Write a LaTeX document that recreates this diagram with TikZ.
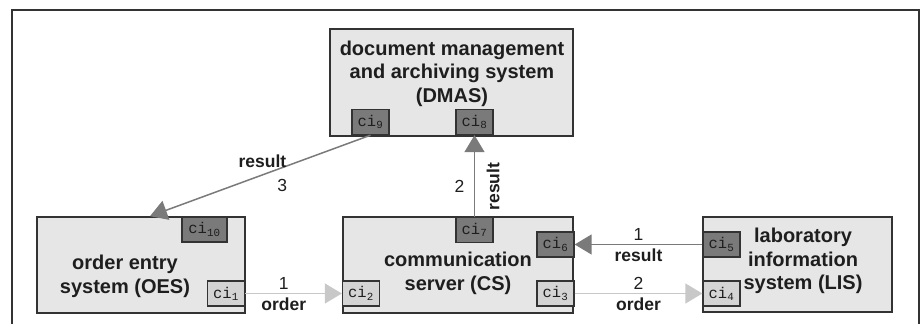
\documentclass[tikz,border=0pt]{standalone}
\usepackage{fontspec}
\setmainfont{Liberation Sans}
\setmonofont{Liberation Mono}
\usepackage{tikz}
\usetikzlibrary{arrows.meta}
\definecolor{frameline}{HTML}{333333}
\definecolor{boxfill}{HTML}{E6E6E6}
\definecolor{cidark}{HTML}{7A7A7A}
\definecolor{cilight}{HTML}{D4D4D4}
\definecolor{arrlight}{HTML}{C8C8C8}
\definecolor{inktext}{HTML}{1E1E1E}
\tikzset{sysbox/.style={draw=frameline,line width=1.6pt,fill=boxfill,inner sep=0pt},systxt/.style={align=center,font=\fontsize{20}{23.5}\selectfont\bfseries,text=inktext,inner sep=0pt},ciD/.style={draw=frameline,line width=1.4pt,fill=cidark,minimum width=37pt,minimum height=25pt,inner sep=0pt,font=\fontsize{15.5}{15.5}\selectfont\ttfamily,text=inktext},ciL/.style={ciD,fill=cilight},darr/.style={-{Triangle[length=17pt,width=20pt]},draw=cidark,line width=1.5pt},larr/.style={darr,draw=arrlight},lbl/.style={font=\fontsize{17.5}{17.5}\selectfont\bfseries,text=inktext},num/.style={font=\fontsize{17.5}{17.5}\selectfont,text=inktext}}
\begin{document}
\begin{tikzpicture}[x=1pt,y=-1pt]
\useasboundingbox (0,0) rectangle (922,324);
\draw[frameline,line width=1.6pt] (12,324)--(12,10)--(919,10)--(919,324);
% systems
\node[sysbox,minimum width=243pt,minimum height=107pt] (dmas) at (451.5,82.5) {};
\node[sysbox,minimum width=208pt,minimum height=96pt] (oes) at (141,265) {};
\node[sysbox,minimum width=230pt,minimum height=96pt] (cs) at (458,265) {};
\node[sysbox,minimum width=189pt,minimum height=95pt] (lis) at (797.5,264.5) {};
\node[systxt] (dmastxt) at (452,73.5) {document management\\and archiving system\\(DMAS)};
\node[systxt] (oestxt) at (125,276.5) {order entry\\system (OES)};
\node[systxt] (cstxt) at (458,273.5) {communication\\server (CS)};
\node[systxt] (listxt) at (803,261) {laboratory\\information\\system (LIS)};
% communication interfaces
\foreach \id/\x/\y/\s in {9/370.5/122/ciD,8/474.5/122/ciD,1/226/293.5/ciL,2/361/293.5/ciL,7/474.5/230/ciD,6/555.5/244.5/ciD,3/555.5/293.5/ciL,5/721.5/244.5/ciD,4/721.5/293.5/ciL}{\node[\s] (ci\id) at (\x,\y) {ci\textsubscript{\id}};}
\node[ciD,minimum width=45pt] (ci10) at (204.5,229.5) {ci\textsubscript{10}};
% messages
\draw[larr] (ci1) -- node[num,above,pos=.4]{1} node[lbl,below,pos=.4]{order} (ci2);
\draw[larr] (ci3) -- node[num,above]{2} node[lbl,below]{order} (ci4);
\draw[darr] (ci5) -- node[num,above]{1} node[lbl,below]{result} (ci6);
\draw[darr] (ci7) -- node[num,left,pos=.37,xshift=-6pt]{2} node[lbl,rotate=90,anchor=north,pos=.37,yshift=-8pt]{result} (ci8);
\draw[darr] (ci9.south) -- node[lbl,above,pos=.49,yshift=3pt]{result} node[num,below,pos=.4,yshift=-8pt]{3} ([xshift=9pt]oes.north);
\end{tikzpicture}
\end{document}
